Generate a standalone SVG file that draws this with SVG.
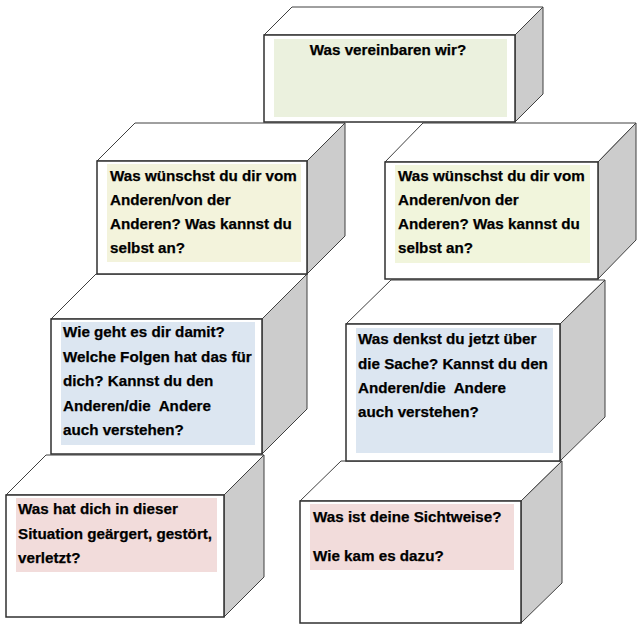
<svg xmlns="http://www.w3.org/2000/svg" width="643" height="630" viewBox="0 0 643 630">
<style>
.top{fill:#ffffff;stroke:#404040;stroke-width:1;stroke-linejoin:miter}
.side{fill:#cccccc;stroke:#404040;stroke-width:1}
.front{fill:#ffffff;stroke:#303030;stroke-width:1.5}
.t{font-family:"Liberation Sans",Arial,sans-serif;font-weight:bold;font-size:15.2px;fill:#000;stroke:#000;stroke-width:0.25;white-space:pre}
.g{fill:#ebf1de}.y{fill:#f3f3dc}.y2{fill:#f1f5dc}.b{fill:#dce6f1}.p{fill:#f2dcdb}
</style>
<rect width="643" height="630" fill="#ffffff"/>
<g id="box-situation">
<polygon class="top" points="6,495 46,455 264,455 224,495"/>
<polygon class="side" points="224,495 264,455 264,577 224,617"/>
<rect class="front" x="6" y="495" width="218" height="122"/>
<rect class="p" x="16" y="498" width="201" height="74"/>
<text class="t" x="18" y="514">Was hat dich in dieser</text>
<text class="t" x="18" y="538.5">Situation geärgert, gestört,</text>
<text class="t" x="18" y="563">verletzt?</text>
</g>
<g id="box-sichtweise">
<polygon class="top" points="300,501 341,461 562,461 521,501"/>
<polygon class="side" points="521,501 562,461 562,583 521,623"/>
<rect class="front" x="300" y="501" width="221" height="122"/>
<rect class="p" x="310" y="504" width="204" height="66"/>
<text class="t" x="313" y="522">Was ist deine Sichtweise?</text>
<text class="t" x="313" y="561">Wie kam es dazu?</text>
</g>
<g id="box-wie-geht">
<polygon class="top" points="51,319 96,274 307,274 262,319"/>
<polygon class="side" points="262,319 307,274 307,409 262,454"/>
<rect class="front" x="51" y="319" width="211" height="135"/>
<rect class="b" x="61" y="322" width="194" height="123"/>
<text class="t" x="63" y="337">Wie geht es dir damit?</text>
<text class="t" x="63" y="361.5">Welche Folgen hat das für</text>
<text class="t" x="63" y="386">dich? Kannst du den</text>
<text class="t" x="63" y="410.5" xml:space="preserve">Anderen/die  Andere</text>
<text class="t" x="63" y="435">auch verstehen?</text>
</g>
<g id="box-denkst">
<polygon class="top" points="346,324 391,280 605,280 560,324"/>
<polygon class="side" points="560,324 605,280 605,417 560,461"/>
<rect class="front" x="346" y="324" width="214" height="137"/>
<rect class="b" x="356" y="328" width="197" height="125"/>
<text class="t" x="358" y="344">Was denkst du jetzt über</text>
<text class="t" x="358" y="368.5">die Sache? Kannst du den</text>
<text class="t" x="358" y="393" xml:space="preserve">Anderen/die  Andere</text>
<text class="t" x="358" y="417">auch verstehen?</text>
</g>
<g id="box-wunsch-links">
<polygon class="top" points="97,161 135,123 345,123 307,161"/>
<polygon class="side" points="307,161 345,123 345,236 307,274"/>
<rect class="front" x="97" y="161" width="210" height="113"/>
<rect class="y" x="107" y="164" width="194" height="98"/>
<text class="t" x="110" y="181">Was wünschst du dir vom</text>
<text class="t" x="110" y="205">Anderen/von der</text>
<text class="t" x="110" y="229">Anderen? Was kannst du</text>
<text class="t" x="110" y="253">selbst an?</text>
</g>
<g id="box-wunsch-rechts">
<polygon class="top" points="385,162 423,123 636,123 598,162"/>
<polygon class="side" points="598,162 636,123 636,240 598,279"/>
<rect class="front" x="385" y="162" width="213" height="117"/>
<rect class="y2" x="395" y="165" width="195" height="98"/>
<text class="t" x="398" y="181">Was wünschst du dir vom</text>
<text class="t" x="398" y="205">Anderen/von der</text>
<text class="t" x="398" y="229">Anderen? Was kannst du</text>
<text class="t" x="398" y="253">selbst an?</text>
</g>
<g id="box-vereinbaren">
<polygon class="top" points="264,35 292,7 543,7 515,35"/>
<polygon class="side" points="515,35 543,7 543,94 515,122"/>
<rect class="front" x="264" y="35" width="251" height="87"/>
<rect class="g" x="274" y="39" width="233" height="78"/>
<text class="t" x="388" y="55" text-anchor="middle">Was vereinbaren wir?</text>
</g>
<g id="connectors"></g>
</svg>
